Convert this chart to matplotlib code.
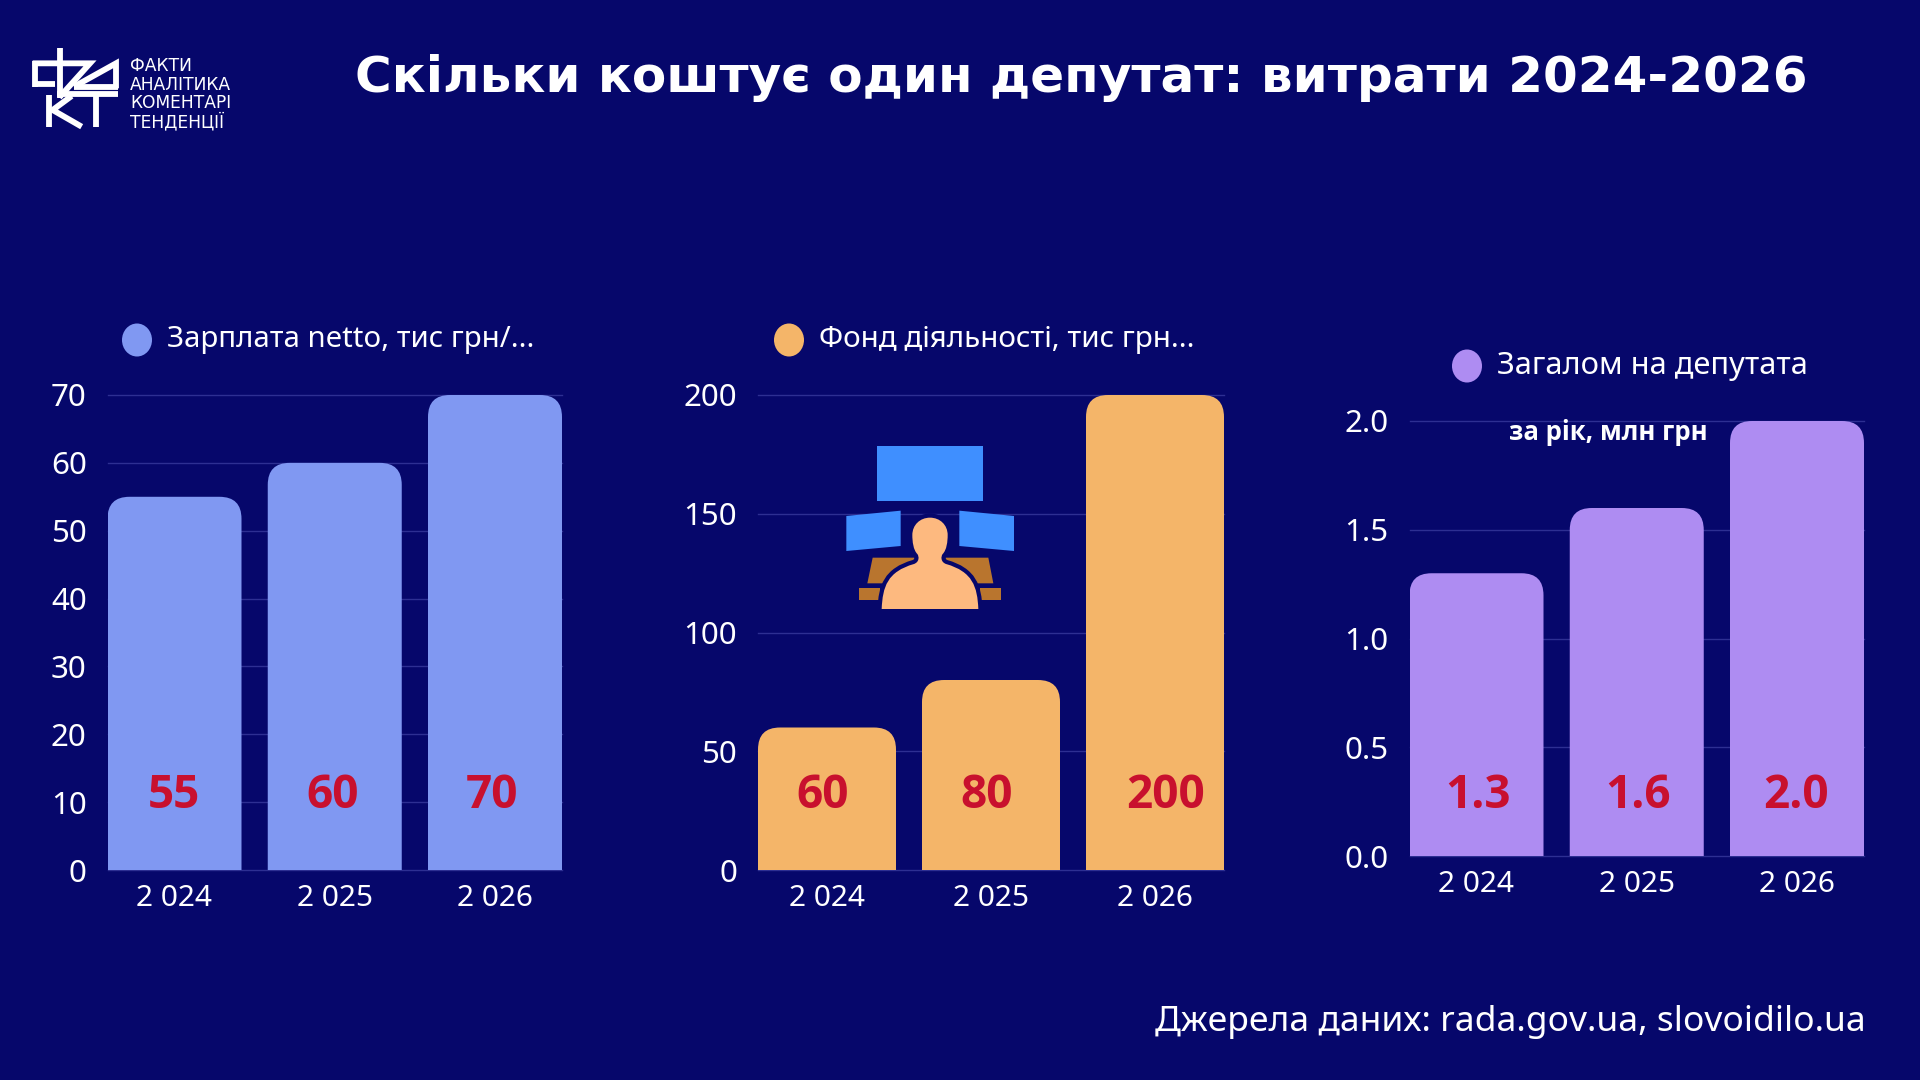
#!/usr/bin/env python3

import numpy as np
import matplotlib
matplotlib.use("Agg")
import matplotlib.pyplot as plt
from matplotlib.path import Path
from matplotlib.patches import PathPatch, Polygon, Rectangle, Ellipse

years = ["2 024", "2 025", "2 026"]

salary = [55, 60, 70]
salary_ticks = [0, 10, 20, 30, 40, 50, 60, 70]
salary_labels = ["55", "60", "70"]

fund = [60, 80, 200]
fund_ticks = [0, 50, 100, 150, 200]
fund_labels = ["60", "80", "200"]

total = [1.3, 1.6, 2.0]
total_ticks = [0.0, 0.5, 1.0, 1.5, 2.0]
total_labels = ["1.3", "1.6", "2.0"]

BG = "#06076B"
GRID = "#2D2F92"
RED = "#C8102E"
BODY = "Noto Sans"
BOLD = "Open Sans"
W, H = 1920, 1080

plt.rcParams["font.family"] = [BODY, "DejaVu Sans"]
fig = plt.figure(figsize=(19.2, 10.8), dpi=100, facecolor=BG)


def round_bar(ax, x, width, top, rad_px, color):
    # bar with rounded top corners, radius given in pixels
    bbox = ax.get_window_extent()
    x0, x1 = ax.get_xlim()
    y0, y1 = ax.get_ylim()
    rx = rad_px * (x1 - x0) / bbox.width
    ry = rad_px * (y1 - y0) / bbox.height
    l, r = x - width / 2, x + width / 2
    verts = [(l, 0), (l, top - ry), (l, top), (l + rx, top), (r - rx, top),
             (r, top), (r, top - ry), (r, 0), (l, 0)]
    codes = [Path.MOVETO, Path.LINETO, Path.CURVE3, Path.CURVE3, Path.LINETO,
             Path.CURVE3, Path.CURVE3, Path.LINETO, Path.CLOSEPOLY]
    ax.add_patch(PathPatch(Path(verts, codes), fc=color, ec="none", zorder=3))


def bar_panel(left, right, top_px, bottom_px, bar_w, values, ticks, color, tick_fmt):
    ax = fig.add_axes([left / W, 1 - bottom_px / H, (right - left) / W, (bottom_px - top_px) / H])
    ax.set_facecolor("none")
    pitch = (right - left - bar_w) / 2
    w = bar_w / pitch
    ax.set_xlim(-w / 2, 2 + w / 2)
    ax.set_ylim(0, ticks[-1])
    for v in ticks:
        ax.axhline(v, color=GRID, lw=1, zorder=1, clip_on=False)
    for i, v in enumerate(values):
        round_bar(ax, i, w, v, 22, color)
    ax.set_xticks(range(3))
    ax.set_xticklabels(years)
    ax.set_yticks(ticks)
    ax.set_yticklabels([tick_fmt % t for t in ticks])
    ax.tick_params(length=0, labelsize=21.5, labelcolor="white", pad=15)
    ax.tick_params(axis="x", pad=10)
    ax.tick_params(axis="y", labelsize=22.5)
    for s in ax.spines.values():
        s.set_visible(False)
    return ax


bar_panel(107.5, 562, 395, 870, 134, salary, salary_ticks, "#8098F2", "%d")
bar_panel(758, 1224, 395, 870, 138, fund, fund_ticks, "#F4B569", "%d")
bar_panel(1409.5, 1864, 421, 856, 134, total, total_ticks, "#AE8CF2", "%.1f")

# full-figure layer in pixel coordinates for everything outside the plots
top = fig.add_axes([0, 0, 1, 1], zorder=10)
top.set_xlim(0, W)
top.set_ylim(H, 0)
top.axis("off")
top.patch.set_alpha(0)

top.text(1081, 78, "Скільки коштує один депутат: витрати 2024-2026", color="white",
         fontsize=36, fontweight="bold", family=["DejaVu Sans"], ha="center", va="center")

# legends
for cx, cy, tx, color, label, size in [
    (137, 340, 167, "#8098F2", "Зарплата netto, тис грн/...", 21.2),
    (789, 340, 819, "#F4B569", "Фонд діяльності, тис грн...", 21.3),
    (1467, 366, 1497, "#AE8CF2", "Загалом на депутата", 22.2),
]:
    top.add_patch(Ellipse((cx, cy), 30, 33, fc=color, ec="none"))
    top.text(tx, cy, label, color="white", fontsize=size, va="center", ha="left")

top.text(1608, 432, "за рік, млн грн", color="white", fontsize=18.5, fontweight="bold",
         family=[BOLD, "DejaVu Sans"], ha="center", va="center")
top.text(1866, 1022, "Джерела даних: rada.gov.ua, slovoidilo.ua", color="white",
         fontsize=25.5, ha="right", va="center")

# value labels sit at one height near the bar base
for xs, labels in [((174, 333, 492), salary_labels),
                   ((823, 987, 1166), fund_labels),
                   ((1478, 1638, 1796), total_labels)]:
    for x, s in zip(xs, labels):
        top.text(x, 795, s, color=RED, fontsize=33, fontweight="bold",
                 family=[BOLD, "DejaVu Sans"], ha="center", va="center")


# person at a desk with three monitors
def ic(x, y):
    return (800 + x / 3, 420 + y / 3)


def poly(points, color):
    top.add_patch(Polygon([ic(*p) for p in points], closed=True, fc=color, ec="none"))


MON = "#3F8FFF"
DESK = "#B9752E"
PERSON = "#FDB97F"
poly([(232, 78), (549, 78), (549, 244), (232, 244)], MON)
poly([(139, 288), (302, 272), (302, 378), (139, 393)], MON)
poly([(478, 272), (642, 288), (642, 393), (478, 378)], MON)
poly([(218, 413), (565, 413), (580, 490), (202, 490)], DESK)
poly([(178, 504), (240, 504), (240, 540), (178, 540)], DESK)
poly([(540, 504), (602, 504), (602, 540), (540, 540)], DESK)

body_v = [(245, 567),
          (248, 500), (262, 455), (342, 432),
          (358, 426), (358, 410), (352, 402),
          (340, 390), (337, 365), (337, 345),
          (337, 315), (360, 293), (390, 293),
          (420, 293), (443, 315), (443, 345),
          (443, 365), (440, 390), (428, 402),
          (422, 410), (422, 426), (438, 432),
          (518, 455), (532, 500), (535, 567),
          (245, 567)]
body_c = [Path.MOVETO] + [Path.CURVE4] * 24 + [Path.CLOSEPOLY]
body = Path([ic(*p) for p in body_v], body_c)
# the dark halo is a wider stroke under the fill
top.add_patch(PathPatch(body, fc=BG, ec=BG, lw=6, joinstyle="round"))
top.add_patch(PathPatch(body, fc=PERSON, ec="none"))
top.add_patch(Rectangle(ic(225, 568), 112, 5, fc=BG, ec="none"))

# logo
LOGO_STROKES = [
    [(98, 192), (165, 192)],
    [(105, 122), (105, 200)],
    [(98, 130), (270, 130), (178, 232)],
    [(181, 85), (181, 235)],
    [(222, 200), (348, 130), (348, 205)],
    [(222, 200), (355, 200)],
    [(148, 225), (148, 320)],
    [(215, 228), (158, 270), (245, 320)],
    [(170, 222), (355, 222)],
    [(288, 222), (288, 320)],
]
for stroke in LOGO_STROKES:
    xs = [p[0] / 3 for p in stroke]
    ys = [20 + p[1] / 3 for p in stroke]
    top.plot(xs, ys, color="white", lw=4.2, solid_capstyle="butt", solid_joinstyle="miter")

for y, s in zip([66, 84.5, 103, 121.5], ["ФАКТИ", "АНАЛІТИКА", "КОМЕНТАРІ", "ТЕНДЕНЦІЇ"]):
    top.text(130, y, s, color="white", fontsize=12.3, family=["DejaVu Sans"],
             va="center", ha="left")

fig.savefig("out.png", dpi=100, facecolor=BG)
